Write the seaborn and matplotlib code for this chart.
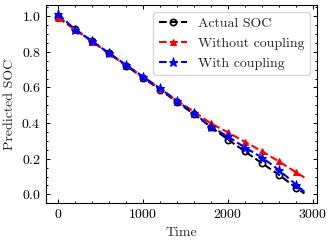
import numpy as np
import pandas as pd
import matplotlib
matplotlib.use('Agg')
import matplotlib.pyplot as plt
import seaborn as sns

# 시간 (마커 위치 0~2800, 마지막 점 2900은 선만)
time = [0, 200, 400, 600, 800, 1000, 1200, 1400, 1600, 1800, 2000, 2200, 2400, 2600, 2800, 2900]

# SOC 값
actual_soc = [0.995, 0.928, 0.860, 0.791, 0.723, 0.655, 0.588, 0.519, 0.450, 0.378,
              0.308, 0.241, 0.175, 0.110, 0.038, 0.005]
without_coupling = [0.990, 0.925, 0.858, 0.792, 0.726, 0.660, 0.594, 0.526, 0.465, 0.398,
                    0.348, 0.295, 0.242, 0.185, 0.124, 0.095]
with_coupling = [1.013, 0.925, 0.860, 0.793, 0.727, 0.661, 0.595, 0.525, 0.456, 0.380,
                 0.325, 0.263, 0.207, 0.137, 0.055, 0.015]

df = pd.DataFrame({
    'Time': time,
    'Actual SOC': actual_soc,
    'Without coupling': without_coupling,
    'With coupling': with_coupling,
})

# 스타일 설정 (science 스타일 비슷하게)
sns.set_style('ticks')
plt.rcParams.update({
    'font.family': 'serif',
    'font.serif': ['cmr10', 'DejaVu Serif'],
    'mathtext.fontset': 'cm',
    'axes.formatter.use_mathtext': True,
    'font.size': 10,
    'axes.linewidth': 0.8,
    'xtick.direction': 'in',
    'ytick.direction': 'in',
    'xtick.top': True,
    'ytick.right': True,
    'xtick.minor.visible': True,
    'ytick.minor.visible': True,
    'xtick.major.size': 3,
    'ytick.major.size': 3,
    'xtick.minor.size': 1.5,
    'ytick.minor.size': 1.5,
    'xtick.major.width': 0.7,
    'ytick.major.width': 0.7,
    'xtick.minor.width': 0.7,
    'ytick.minor.width': 0.7,
    'axes.edgecolor': 'black',
    'xtick.color': 'black',
    'ytick.color': 'black',
})

fig, ax = plt.subplots(figsize=(3.32, 2.44), dpi=100)
fig.subplots_adjust(left=0.1377, right=0.954, bottom=0.1668, top=0.9795)

marks = list(range(15))
sns.lineplot(data=df, x='Time', y='Actual SOC', ax=ax, color='black', linestyle='--',
             linewidth=1.5, marker='o', markersize=4.5, markerfacecolor='none',
             markeredgecolor='black', markeredgewidth=1.2, markevery=marks, label='Actual SOC')
sns.lineplot(data=df, x='Time', y='Without coupling', ax=ax, color='red', linestyle='--',
             linewidth=1.5, marker='^', markersize=5, markeredgecolor='red',
             markevery=marks, label='Without coupling')
sns.lineplot(data=df, x='Time', y='With coupling', ax=ax, color='blue', linestyle='--',
             linewidth=1.5, marker='*', markersize=6.5, markeredgecolor='blue',
             markevery=marks, label='With coupling')

ax.set_xlabel('Time')
ax.set_ylabel('Predicted SOC')
ax.set_xticks([0, 1000, 2000, 3000])
ax.set_yticks([0.0, 0.2, 0.4, 0.6, 0.8, 1.0])
ax.set_xlim(-145, 3045)
ax.set_ylim(-0.05, 1.063)
ax.xaxis.set_minor_locator(matplotlib.ticker.AutoMinorLocator(5))
ax.yaxis.set_minor_locator(matplotlib.ticker.AutoMinorLocator(4))
ax.legend(loc='upper right', frameon=True, fontsize=10)

fig.savefig('out.png', dpi=100)
